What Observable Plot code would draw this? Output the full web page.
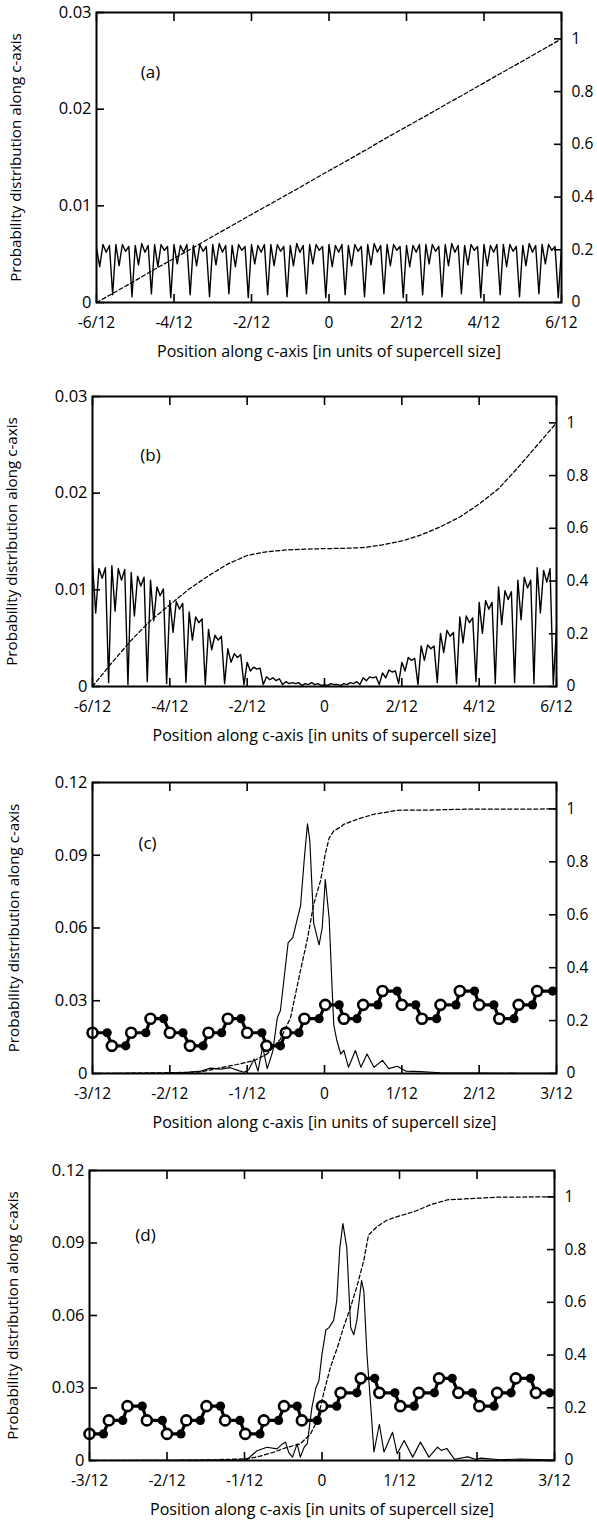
<!DOCTYPE html>
<html><head><meta charset="utf-8">
<script src="https://cdn.jsdelivr.net/npm/d3@7"></script>
<script src="https://cdn.jsdelivr.net/npm/@observablehq/plot@0.6"></script>
<style>
body{margin:0;background:#fff;}
#chart{width:597px;}
#chart svg{display:block;}
</style></head><body><div id="chart"></div>
<script>
// ---------- DATA ----------
// x positions are in units of 1/12 of the supercell size
const yTitle = "Probability distribution along c-axis";
const xTitle = "Position along c-axis [in units of supercell size]";
const panelLabels = ["(a)", "(b)", "(c)", "(d)"];

const xTicksAB = [-6, -4, -2, 0, 2, 4, 6];
const xTicksCD = [-3, -2, -1, 0, 1, 2, 3];
const yTicksAB = [0, 0.01, 0.02, 0.03];
const yTicksCD = [0, 0.03, 0.06, 0.09, 0.12];
const rightTicks = [0, 0.2, 0.4, 0.6, 0.8, 1];

// panels (a),(b): probability sampled every 1/144 of the cell, from -6/12 to 6/12
const probA = [
  0.0056, 0.0037, 0.0060, 0.0052, 0.0059,
  0.0008, 0.0060, 0.0038, 0.0060, 0.0053, 0.0058,
  0.0006, 0.0059, 0.0039, 0.0061, 0.0052, 0.0059,
  0.0009, 0.0060, 0.0037, 0.0060, 0.0054, 0.0058,
  0.0005, 0.0060, 0.0040, 0.0059, 0.0052, 0.0060,
  0.0008, 0.0059, 0.0038, 0.0060, 0.0053, 0.0058,
  0.0006, 0.0060, 0.0039, 0.0061, 0.0052, 0.0059,
  0.0009, 0.0059, 0.0037, 0.0060, 0.0054, 0.0058,
  0.0005, 0.0060, 0.0040, 0.0059, 0.0052, 0.0060,
  0.0008, 0.0060, 0.0038, 0.0060, 0.0053, 0.0058,
  0.0006, 0.0059, 0.0038, 0.0061, 0.0052, 0.0059,
  0.0009, 0.0060, 0.0040, 0.0060, 0.0054, 0.0058,
  0.0005, 0.0060, 0.0037, 0.0059, 0.0052, 0.0060,
  0.0008, 0.0059, 0.0038, 0.0060, 0.0053, 0.0058,
  0.0006, 0.0060, 0.0039, 0.0061, 0.0052, 0.0059,
  0.0009, 0.0060, 0.0038, 0.0060, 0.0054, 0.0058,
  0.0005, 0.0059, 0.0037, 0.0059, 0.0052, 0.0060,
  0.0008, 0.0060, 0.0040, 0.0060, 0.0053, 0.0058,
  0.0006, 0.0060, 0.0038, 0.0061, 0.0052, 0.0059,
  0.0009, 0.0059, 0.0039, 0.0060, 0.0054, 0.0058,
  0.0005, 0.0060, 0.0038, 0.0059, 0.0052, 0.0060,
  0.0008, 0.0060, 0.0037, 0.0060, 0.0053, 0.0058,
  0.0006, 0.0059, 0.0038, 0.0061, 0.0052, 0.0059,
  0.0009, 0.0060, 0.0040, 0.0060, 0.0054, 0.0058,
  0.0005, 0.0056
];
const probB = [
  0.0127, 0.0076, 0.0122, 0.0112, 0.0123,
  0.0004, 0.0125, 0.0078, 0.0122, 0.0110, 0.0121,
  0.0002, 0.0118, 0.0073, 0.0114, 0.0104, 0.0113,
  0.0005, 0.0110, 0.0068, 0.0103, 0.0094, 0.0101,
  0.0003, 0.0089, 0.0056, 0.0088, 0.0080, 0.0086,
  0.0004, 0.0077, 0.0048, 0.0072, 0.0066, 0.0070,
  0.0002, 0.0059, 0.0038, 0.0053, 0.0048, 0.0052,
  0.0003, 0.0039, 0.0025, 0.0034, 0.0030, 0.0033,
  0.0002, 0.0025, 0.0016, 0.0020, 0.0018, 0.0019,
  0.0002, 0.0010, 0.0007, 0.0009, 0.0006, 0.0008,
  0.0002, 0.0005, 0.0003, 0.0004, 0.0003, 0.0004,
  0.0001, 0.0003, 0.0002, 0.0004, 0.0002, 0.0003,
  0.0001, 0.0002, 0.0001, 0.0003, 0.0002, 0.0002,
  0.0001, 0.0003, 0.0002, 0.0004, 0.0003, 0.0005,
  0.0002, 0.0009, 0.0006, 0.0010, 0.0009, 0.0010,
  0.0002, 0.0014, 0.0009, 0.0017, 0.0015, 0.0016,
  0.0003, 0.0025, 0.0016, 0.0030, 0.0027, 0.0029,
  0.0002, 0.0042, 0.0027, 0.0043, 0.0039, 0.0042,
  0.0004, 0.0055, 0.0035, 0.0058, 0.0052, 0.0056,
  0.0003, 0.0072, 0.0045, 0.0073, 0.0066, 0.0071,
  0.0005, 0.0087, 0.0055, 0.0089, 0.0080, 0.0087,
  0.0003, 0.0103, 0.0064, 0.0099, 0.0090, 0.0098,
  0.0004, 0.0110, 0.0069, 0.0113, 0.0102, 0.0110,
  0.0003, 0.0123, 0.0076, 0.0120, 0.0108, 0.0122,
  0.0002, 0.0060
];

// integrated probability (right axis)
const cumAX = [-6,-5.5,-5,-4.5,-4,-3.5,-3,-2.5,-2,-1.5,-1,-0.5,0,0.5,1,1.5,2,2.5,3,3.5,4,4.5,5,5.5,6];
const cumAY = [0,0.041,0.083,0.126,0.167,0.208,0.251,0.292,0.334,0.375,0.416,0.458,0.5,0.541,0.583,0.626,0.667,0.708,0.75,0.791,0.833,0.875,0.916,0.958,1.0];
const cumBX = [-6,-5.5,-5,-4.5,-4,-3.5,-3,-2.5,-2,-1.5,-1,-0.5,0,0.5,1,1.5,2,2.5,3,3.5,4,4.5,5,5.5,6];
const cumBY = [0,0.09,0.175,0.25,0.31,0.37,0.42,0.465,0.497,0.511,0.518,0.521,0.523,0.524,0.527,0.537,0.552,0.575,0.606,0.643,0.692,0.75,0.83,0.915,1.0];

// panel (c)
const probCX = [-3,-2.5,-2,-1.8,-1.6,-1.47,-1.34,-1.22,-1.11,-1.04,-0.98,-0.91,-0.86,-0.8,-0.74,-0.67,-0.61,-0.57,-0.47,-0.41,-0.35,-0.31,-0.26,-0.22,-0.19,-0.14,-0.07,-0.03,0.01,0.06,0.1,0.12,0.16,0.21,0.25,0.31,0.4,0.47,0.55,0.64,0.75,0.83,0.94,1.05,1.24,1.5,2,2.5,3];
const probCY = [0,0.0001,0.0002,0.0004,0.001,0.0022,0.0018,0.0024,0.0012,0.0005,0.0015,0.006,0.001,0.011,0.002,0.009,0.023,0.026,0.054,0.056,0.064,0.069,0.089,0.103,0.096,0.062,0.053,0.06,0.08,0.064,0.034,0.02,0.0136,0.008,0.0095,0.0026,0.0095,0.0026,0.008,0.0026,0.0054,0.002,0.003,0.001,0.0008,0.0003,0.0002,0.0001,0.0001];
const cumCX = [-3,-2.5,-2,-1.6,-1.34,-1.13,-0.9,-0.74,-0.57,-0.44,-0.31,-0.22,-0.14,-0.05,0.01,0.06,0.12,0.21,0.25,0.42,0.64,0.85,0.94,1.37,1.81,3];
const cumCY = [0,0.001,0.003,0.006,0.022,0.034,0.05,0.074,0.13,0.21,0.39,0.51,0.64,0.73,0.83,0.89,0.917,0.932,0.942,0.961,0.98,0.99,0.995,0.996,0.999,1.0];
const atomsCOpenX = [-3,-2.75,-2.5,-2.25,-2,-1.74,-1.5,-1.25,-1,-0.75,-0.5,-0.26,0.01,0.25,0.5,0.75,1,1.26,1.5,1.75,2,2.26,2.51,2.75];
const atomsCFilledX = [-2.81,-2.57,-2.31,-2.08,-1.83,-1.57,-1.33,-1.08,-0.81,-0.57,-0.33,-0.07,0.19,0.42,0.69,0.94,1.18,1.45,1.7,1.94,2.19,2.45,2.69,2.95];
const atomsCY = [0.0168,0.0114,0.0168,0.0226,0.0168,0.0114,0.0168,0.0226,0.0168,0.0114,0.0168,0.0226,0.0283,0.0226,0.0283,0.034,0.0283,0.0226,0.0283,0.034,0.0283,0.0226,0.0283,0.034];

// panel (d)
const probDX = [-3,-2,-1.2,-0.97,-0.84,-0.71,-0.58,-0.51,-0.47,-0.43,-0.38,-0.32,-0.28,-0.23,-0.19,-0.13,-0.08,-0.04,0,0.05,0.09,0.15,0.19,0.23,0.27,0.32,0.37,0.41,0.45,0.51,0.54,0.58,0.63,0.67,0.74,0.8,0.91,0.97,1.06,1.17,1.27,1.38,1.49,1.54,1.61,1.71,1.88,1.98,2.05,2.3,2.56,3];
const probDY = [0,0.0001,0.0002,0.0003,0.004,0.0055,0.0048,0.0069,0.0076,0.0034,0.0014,0.0069,0.0014,0.0055,0.007,0.022,0.03,0.033,0.044,0.054,0.055,0.058,0.066,0.088,0.098,0.088,0.055,0.052,0.058,0.0745,0.07,0.044,0.022,0.0035,0.015,0.0035,0.0117,0.0028,0.0083,0.0014,0.0076,0.0014,0.0055,0.0042,0.005,0.0005,0.0015,0.0005,0.001,0.0003,0.0006,0.0002];
const cumDX = [-3,-2,-1.5,-1,-0.84,-0.62,-0.45,-0.28,-0.15,-0.06,0.02,0.11,0.2,0.28,0.37,0.45,0.54,0.6,0.71,0.84,0.97,1.19,1.4,1.62,1.83,2.26,3];
const cumDY = [0,0.0005,0.002,0.006,0.013,0.032,0.05,0.063,0.1,0.152,0.253,0.355,0.43,0.507,0.583,0.659,0.76,0.855,0.887,0.912,0.925,0.944,0.97,0.989,0.992,0.999,1.0];
const atomsDOpenX = [-3,-2.75,-2.51,-2.26,-2,-1.75,-1.49,-1.25,-0.99,-0.75,-0.49,-0.26,0,0.24,0.5,0.74,1.01,1.25,1.51,1.76,2.03,2.26,2.5,2.76];
const atomsDFilledX = [-2.82,-2.57,-2.32,-2.06,-1.82,-1.57,-1.31,-1.06,-0.8,-0.56,-0.32,-0.06,0.19,0.45,0.68,0.94,1.19,1.45,1.68,1.94,2.22,2.44,2.69,2.94];
const atomsDY = [0.011,0.0166,0.0225,0.0166,0.011,0.0166,0.0225,0.0166,0.011,0.0166,0.0225,0.0166,0.0225,0.028,0.034,0.028,0.0225,0.028,0.034,0.028,0.0225,0.028,0.034,0.028];

// ---------- BUILD ----------
const FONT = "'Open Sans', 'DejaVu Sans', sans-serif";
const xFmt = d => d === 0 ? "0" : `${d}/12`;

function gridRows(vals) { return vals.map((v, i) => ({x: -6 + i / 12, y: v})); }
function pairRows(xs, ys, k = 1) { return xs.map((x, i) => ({x, y: ys[i] * k})); }
function chainRows(openX, filledX, ys) {
  const out = [];
  openX.forEach((x, i) => { out.push({x, y: ys[i], open: true}); out.push({x: filledX[i], y: ys[i], open: false}); });
  return out;
}

function panel(cfg) {
  const k = cfg.yMax / 1.1; // right axis: 0..1.1 mapped onto left domain
  const marks = [];
  if (cfg.atoms) {
    marks.push(Plot.line(cfg.atoms, {x: "x", y: "y", stroke: "black", strokeWidth: 3.2}));
    marks.push(Plot.dot(cfg.atoms.filter(d => d.open), {x: "x", y: "y", r: 5, fill: "white", stroke: "black", strokeWidth: 2.6}));
    marks.push(Plot.dot(cfg.atoms.filter(d => !d.open), {x: "x", y: "y", r: 4.6, fill: "black", stroke: "none"}));
  }
  marks.push(Plot.line(cfg.prob, {x: "x", y: "y", stroke: "black", strokeWidth: cfg.probWidth}));
  marks.push(Plot.line(cfg.cum.map(d => ({x: d.x, y: d.y * k})), {x: "x", y: "y", stroke: "black", strokeWidth: 1.25, strokeDasharray: "4,2.5"}));
  marks.push(Plot.frame({stroke: "black", strokeWidth: 2}));
  // inward ticks
  marks.push(Plot.axisX({anchor: "bottom", ticks: cfg.xTicks, tickSize: 8, insetBottom: 8, tickFormat: () => "", strokeWidth: 1.6, label: null}));
  marks.push(Plot.axisX({anchor: "top", ticks: cfg.xTicks, tickSize: 8, insetTop: 8, tickFormat: () => "", strokeWidth: 1.6, label: null}));
  marks.push(Plot.axisY({anchor: "left", ticks: cfg.yTicks, tickSize: 8, insetLeft: 8, tickFormat: () => "", strokeWidth: 1.6, label: null}));
  marks.push(Plot.axisY({anchor: "right", ticks: rightTicks.map(v => v * k), tickSize: 8, insetRight: 8, tickFormat: () => "", strokeWidth: 1.6, label: null}));
  // tick labels
  marks.push(Plot.axisX({anchor: "bottom", ticks: cfg.xTicks, tickSize: 0, tickPadding: 14, tickFormat: xFmt, fontSize: 15.5, label: null}));
  marks.push(Plot.axisY({anchor: "left", ticks: cfg.yTicks, tickSize: 0, tickPadding: 5, tickFormat: d => d === 0 ? "0" : String(d), fontSize: 16.5, label: null}));
  marks.push(Plot.axisY({anchor: "right", ticks: rightTicks.map(v => v * k), tickSize: 0, tickPadding: 10, tickFormat: d => { const v = Math.round(d / k * 10) / 10; return v === 0 ? "0" : String(v); }, fontSize: 15.5, label: null}));
  // titles
  marks.push(Plot.text([xTitle], {frameAnchor: "bottom", dy: 49, lineAnchor: "middle", textAnchor: "middle", fontSize: 16}));
  marks.push(Plot.text([yTitle], {frameAnchor: "left", dx: cfg.yTitleDx, rotate: -90, lineAnchor: "middle", textAnchor: "middle", fontSize: 15.2}));
  marks.push(Plot.text([cfg.label], {frameAnchor: "top-left", dx: cfg.labelDx, dy: cfg.labelDy, lineAnchor: "middle", textAnchor: "middle", fontSize: 17}));

  return Plot.plot({
    width: 597, height: cfg.height,
    marginTop: cfg.mt, marginBottom: cfg.mb, marginLeft: cfg.ml, marginRight: cfg.mr,
    style: {fontFamily: FONT, background: "white", color: "black", overflow: "visible"},
    x: {domain: cfg.xDomain, label: null},
    y: {domain: [0, cfg.yMax], label: null},
    marks
  });
}

const chart = document.getElementById("chart");
chart.append(panel({
  height: 384, mt: 12, mb: 82, ml: 96, mr: 36,
  xDomain: [-6, 6], xTicks: xTicksAB, yMax: 0.03, yTicks: yTicksAB,
  prob: gridRows(probA), probWidth: 1.4, cum: pairRows(cumAX, cumAY),
  label: panelLabels[0], labelDx: 54, labelDy: 60, yTitleDx: -80
}));
chart.append(panel({
  height: 386, mt: 12, mb: 84, ml: 92, mr: 41,
  xDomain: [-6, 6], xTicks: xTicksAB, yMax: 0.03, yTicks: yTicksAB,
  prob: gridRows(probB), probWidth: 1.4, cum: pairRows(cumBX, cumBY),
  label: panelLabels[1], labelDx: 58, labelDy: 59, yTitleDx: -80
}));
chart.append(panel({
  height: 388, mt: 12, mb: 85, ml: 92, mr: 41,
  xDomain: [-3, 3], xTicks: xTicksCD, yMax: 0.12, yTicks: yTicksCD,
  prob: pairRows(probCX, probCY), probWidth: 1.15, cum: pairRows(cumCX, cumCY),
  atoms: chainRows(atomsCOpenX, atomsCFilledX, atomsCY),
  label: panelLabels[2], labelDx: 55, labelDy: 61, yTitleDx: -78
}));
chart.append(panel({
  height: 362, mt: 12, mb: 60, ml: 89, mr: 43,
  xDomain: [-3, 3], xTicks: xTicksCD, yMax: 0.12, yTicks: yTicksCD,
  prob: pairRows(probDX, probDY), probWidth: 1.15, cum: pairRows(cumDX, cumDY),
  atoms: chainRows(atomsDOpenX, atomsDFilledX, atomsDY),
  label: panelLabels[3], labelDx: 56, labelDy: 65, yTitleDx: -76
}));
</script></body></html>
